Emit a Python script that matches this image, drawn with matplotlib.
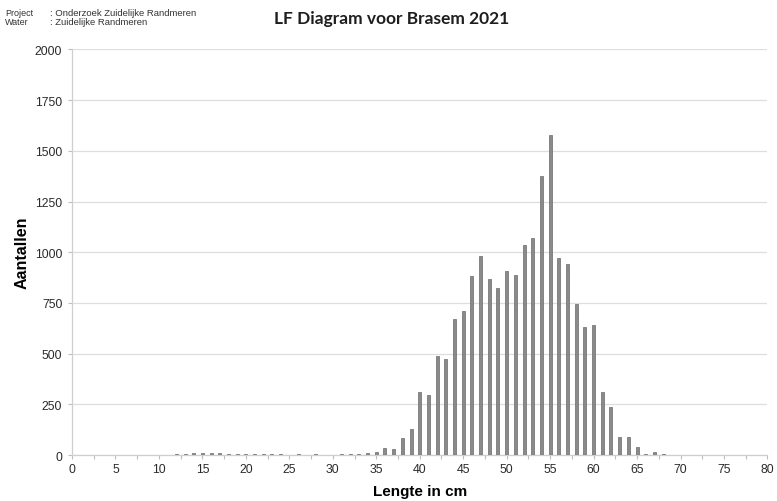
import matplotlib
matplotlib.use("Agg")
import matplotlib.pyplot as plt
import numpy as np

plt.rcParams["font.family"] = ["Liberation Sans", "DejaVu Sans"]

# length classes (cm) and counts
lengths = list(range(12, 69))
counts = [3, 5, 8, 10, 8, 10, 6, 3, 4, 5, 6, 5, 3, 2, 3, 2, 3, 2, 2, 3, 4, 3, 8,
          15, 35, 30, 82, 128, 311, 298, 488, 472, 669, 708, 882, 980, 869, 823,
          905, 889, 1036, 1069, 1377, 1579, 969, 943, 744, 630, 641, 311, 239,
          90, 90, 38, 5, 15, 3]

x_ticks = list(range(0, 81, 5))
y_ticks = [0, 250, 500, 750, 1000, 1250, 1500, 1750, 2000]

title = "LF Diagram voor Brasem 2021"
x_label = "Lengte in cm"
y_label = "Aantallen"

fig = plt.figure(figsize=(7.77, 5.02), dpi=100)
ax = fig.add_axes([0.0927, 0.0916, 0.895, 0.808])

ax.bar(lengths, counts, width=0.35, color="#8a8a8a", edgecolor="#6a6a6a",
       linewidth=0.5, zorder=3)

ax.set_xlim(0, 80)
ax.set_ylim(0, 2000)
ax.set_xticks(x_ticks)
ax.set_xticks(np.arange(2.5, 80, 5), minor=True)
ax.set_yticks(y_ticks)
ax.grid(axis="y", color="#dedede", linewidth=0.9, zorder=0)

for side in ["top", "right"]:
    ax.spines[side].set_visible(False)
for side in ["left", "bottom"]:
    ax.spines[side].set_color("#cfcfcf")
    ax.spines[side].set_linewidth(0.9)

ax.tick_params(axis="both", which="both", colors="#bdbdbd", labelcolor="#2a2a2a",
               labelsize=8.8, length=3, width=0.8)
ax.tick_params(axis="y", pad=4)
ax.tick_params(axis="x", pad=3)

ax.set_xlabel(x_label, fontsize=11, fontweight="bold", labelpad=6)
ax.set_ylabel(y_label, fontsize=11.5, fontweight="bold", labelpad=4)

fig.text(0.504, 0.962, title, ha="center", va="center", fontsize=12.5,
         fontweight="bold", family=["Lato", "DejaVu Sans"], color="#1e1e1e")

fig.text(0.007, 0.974, "Project", fontsize=6.5, va="center", color="#333333")
fig.text(0.064, 0.974, ": Onderzoek Zuidelijke Randmeren", fontsize=6.8,
         va="center", color="#333333")
fig.text(0.007, 0.955, "Water", fontsize=6.5, va="center", color="#333333")
fig.text(0.064, 0.955, ": Zuidelijke Randmeren", fontsize=6.8, va="center",
         color="#333333")

fig.savefig("out.png", dpi=100, facecolor="white")
